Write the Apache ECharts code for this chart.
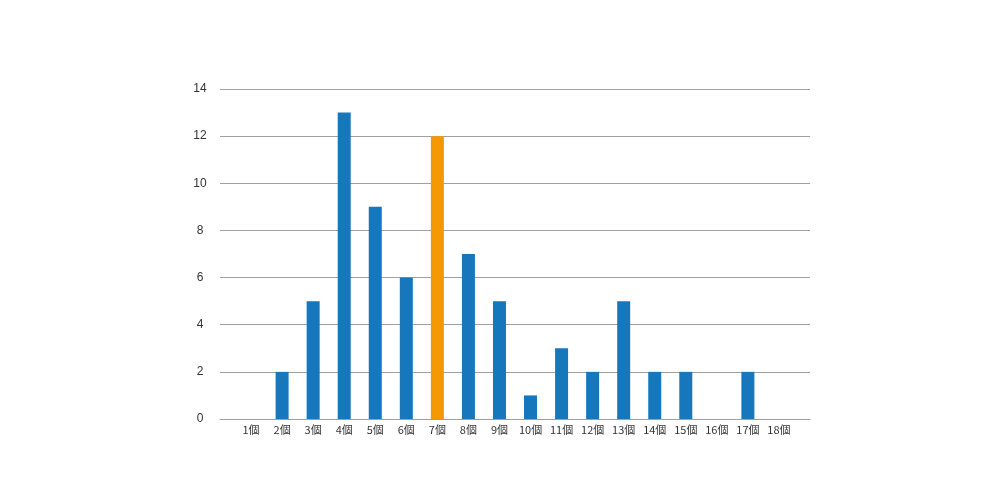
<!DOCTYPE html>
<html>
<head>
<meta charset="utf-8">
<script src="https://cdn.jsdelivr.net/npm/echarts@6/dist/echarts.min.js"></script>
<style>html,body{margin:0;padding:0;background:#fff;}#c{width:1000px;height:504px;}</style>
</head>
<body>
<div id="c"></div>
<script>
var categories = ['1個','2個','3個','4個','5個','6個','7個','8個','9個','10個','11個','12個','13個','14個','15個','16個','17個','18個'];
var values = [0, 2, 5, 13, 9, 6, 12, 7, 5, 1, 3, 2, 5, 2, 2, 0, 2, 0];
var highlightCategory = '7個';
var yTicks = [0, 2, 4, 6, 8, 10, 12, 14];

var axisCats = [''].concat(categories).concat(['']);
var seriesData = [null].concat(values.map(function (v, i) {
  return {
    value: v,
    itemStyle: { color: categories[i] === highlightCategory ? '#f39800' : '#1677bd' }
  };
})).concat([null]);

var chart = echarts.init(document.getElementById('c'));
chart.setOption({
  animation: false,
  backgroundColor: '#fff',
  grid: { left: 220, right: 190, top: 89, bottom: 85 },
  xAxis: {
    type: 'category',
    data: axisCats,
    boundaryGap: false,
    axisLine: { lineStyle: { color: '#a0a0a0', width: 1 } },
    axisTick: { show: false },
    axisLabel: { color: '#333', fontSize: 11, margin: 5, interval: 0, fontFamily: 'Noto Sans CJK JP' },
    splitLine: { show: false }
  },
  yAxis: {
    type: 'value',
    min: yTicks[0],
    max: yTicks[yTicks.length - 1],
    interval: 2,
    axisLine: { show: false },
    axisTick: { show: false },
    axisLabel: { color: '#333', fontSize: 12, align: 'center', margin: 20, fontFamily: 'Liberation Sans' },
    splitLine: { lineStyle: { color: '#a0a0a0', width: 1 } }
  },
  series: [{
    type: 'bar',
    data: seriesData,
    barWidth: 13
  }]
});
</script>
</body>
</html>
